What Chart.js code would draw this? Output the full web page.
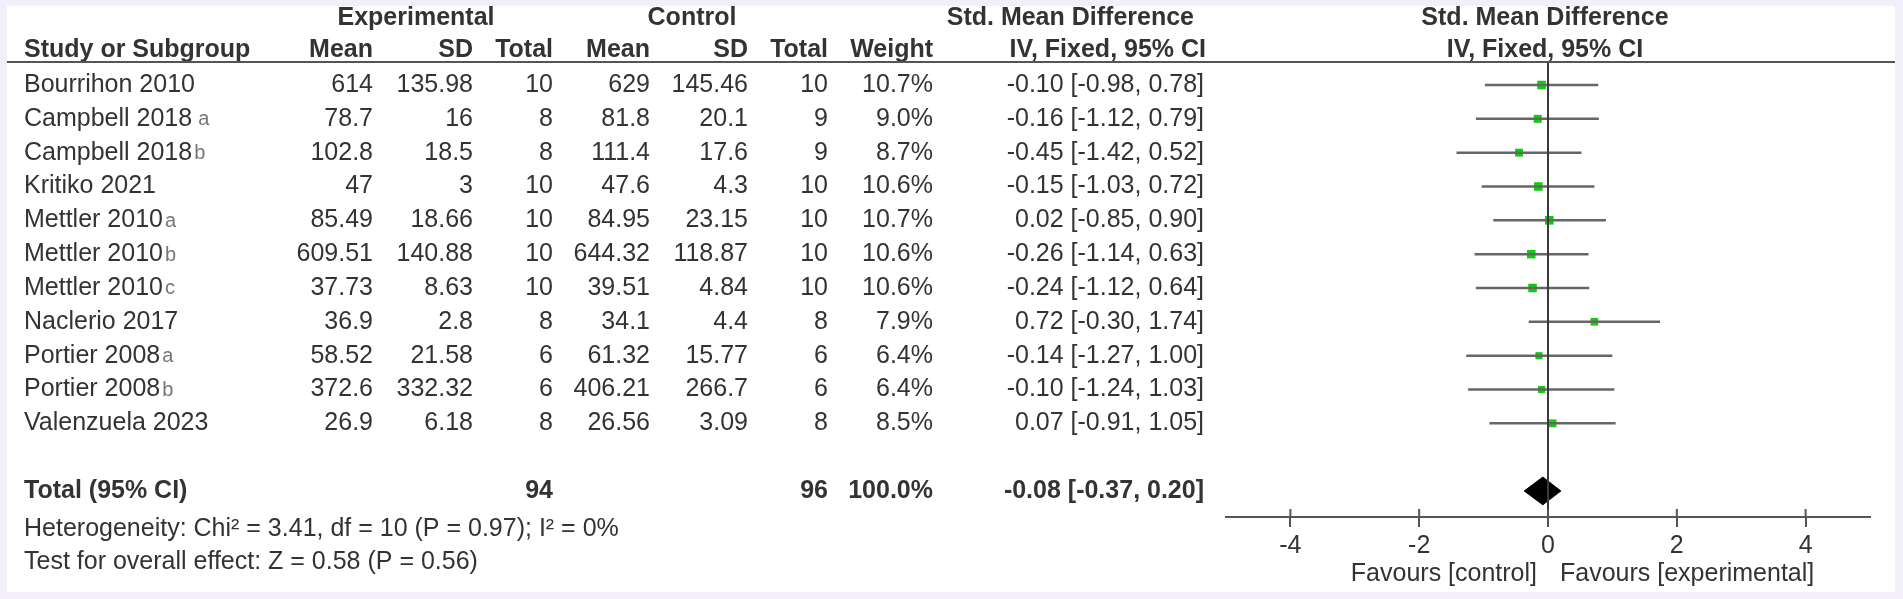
<!DOCTYPE html>
<html>
<head>
<meta charset="utf-8">
<script src="https://cdn.jsdelivr.net/npm/chart.js@4.4.1/dist/chart.umd.min.js"></script>
<style>
html, body { margin: 0; padding: 0; background: #f3effa; }
canvas { display: block; }
</style>
</head>
<body>
<canvas id="forest" width="1903" height="599"></canvas>
<script>
// study rows
const studies = ['Bourrihon 2010', 'Campbell 2018', 'Campbell 2018', 'Kritiko 2021', 'Mettler 2010', 'Mettler 2010',
    'Mettler 2010', 'Naclerio 2017', 'Portier 2008', 'Portier 2008', 'Valenzuela 2023'];
const marks = ['', 'a', 'b', '', 'a', 'b', 'c', '', 'a', 'b', ''];
const expMean = ['614', '78.7', '102.8', '47', '85.49', '609.51', '37.73', '36.9', '58.52', '372.6', '26.9'];
const expSD = ['135.98', '16', '18.5', '3', '18.66', '140.88', '8.63', '2.8', '21.58', '332.32', '6.18'];
const expTotal = [10, 8, 8, 10, 10, 10, 10, 8, 6, 6, 8];
const ctlMean = ['629', '81.8', '111.4', '47.6', '84.95', '644.32', '39.51', '34.1', '61.32', '406.21', '26.56'];
const ctlSD = ['145.46', '20.1', '17.6', '4.3', '23.15', '118.87', '4.84', '4.4', '15.77', '266.7', '3.09'];
const ctlTotal = [10, 9, 9, 10, 10, 10, 10, 8, 6, 6, 8];
const weights = [10.7, 9.0, 8.7, 10.6, 10.7, 10.6, 10.6, 7.9, 6.4, 6.4, 8.5];
const smd = [-0.10, -0.16, -0.45, -0.15, 0.02, -0.26, -0.24, 0.72, -0.14, -0.10, 0.07];
const ciLow = [-0.98, -1.12, -1.42, -1.03, -0.85, -1.14, -1.12, -0.30, -1.27, -1.24, -0.91];
const ciHigh = [0.78, 0.79, 0.52, 0.72, 0.90, 0.63, 0.64, 1.74, 1.00, 1.03, 1.05];

// pooled result
const totalExp = 94;
const totalCtl = 96;
const totalWeight = 100.0;
const totalSmd = -0.08;
const totalLow = -0.37;
const totalHigh = 0.20;
const heterogeneity = 'Heterogeneity: Chi² = 3.41, df = 10 (P = 0.97); I² = 0%';
const overallEffect = 'Test for overall effect: Z = 0.58 (P = 0.56)';

const xTicks = [-4, -2, 0, 2, 4];

// row positions on the y scale
const rowY = studies.map((s, i) => i + 0.68);
const totalY = 12.68;
const yMax = 13.45;

const FONT = '"Liberation Sans", Arial, sans-serif';
const FS = 25;
const TEXT = '#333333';
const LINE = '#555555';

// columns: right edges in px
const col = { study: 24, expMean: 373, expSD: 473, expTotal: 553, ctlMean: 650, ctlSD: 748, ctlTotal: 828, weight: 933, ci: 1204 };

const fmt = v => v.toFixed(2);
const ciText = (m, lo, hi) => `${fmt(m)} [${fmt(lo)}, ${fmt(hi)}]`;

const ciDatasets = studies.map((s, i) => ({
    data: [{ x: ciLow[i], y: rowY[i] }, { x: ciHigh[i], y: rowY[i] }],
    showLine: true,
    borderColor: '#666666',
    borderWidth: 2.5,
    pointRadius: 0
}));

const tablePlugin = {
    id: 'table',
    beforeDraw(chart) {
        const ctx = chart.ctx;
        ctx.save();
        ctx.fillStyle = '#f3effa';
        ctx.fillRect(0, 0, chart.width, chart.height);
        ctx.fillStyle = '#ffffff';
        ctx.fillRect(7, 6, 1888, 586);
        ctx.restore();
    },
    afterDraw(chart) {
        const ctx = chart.ctx;
        const y = chart.scales.y;
        const x = chart.scales.x;
        ctx.save();
        ctx.fillStyle = TEXT;
        ctx.textBaseline = 'middle';

        const put = (t, px, py, align, bold, size) => {
            ctx.font = `${bold ? 'bold ' : ''}${size || FS}px ${FONT}`;
            ctx.textAlign = align;
            ctx.fillText(t, px, py);
        };

        // headers
        put('Experimental', 416, 18, 'center', true);
        put('Control', 692, 18, 'center', true);
        put('Std. Mean Difference', 1194, 18, 'right', true);
        put('Std. Mean Difference', 1545, 18, 'center', true);
        put('Study or Subgroup', col.study, 50, 'left', true);
        put('Mean', col.expMean, 50, 'right', true);
        put('SD', col.expSD, 50, 'right', true);
        put('Total', col.expTotal, 50, 'right', true);
        put('Mean', col.ctlMean, 50, 'right', true);
        put('SD', col.ctlSD, 50, 'right', true);
        put('Total', col.ctlTotal, 50, 'right', true);
        put('Weight', col.weight, 50, 'right', true);
        put('IV, Fixed, 95% CI', 1206, 50, 'right', true);
        put('IV, Fixed, 95% CI', 1545, 50, 'center', true);

        ctx.strokeStyle = LINE;
        ctx.lineWidth = 2;
        ctx.beginPath();
        ctx.moveTo(7, 62);
        ctx.lineTo(1895, 62);
        ctx.stroke();

        // study rows
        studies.forEach((s, i) => {
            const py = y.getPixelForValue(rowY[i]);
            put(s, col.study, py, 'left');
            if (marks[i]) {
                ctx.font = `${FS}px ${FONT}`;
                const w = ctx.measureText(s).width;
                ctx.fillStyle = '#777777';
                put(marks[i], col.study + w + (i === 1 ? 6 : 2), py + 1, 'left', false, 20);
                ctx.fillStyle = TEXT;
            }
            put(expMean[i], col.expMean, py, 'right');
            put(expSD[i], col.expSD, py, 'right');
            put(String(expTotal[i]), col.expTotal, py, 'right');
            put(ctlMean[i], col.ctlMean, py, 'right');
            put(ctlSD[i], col.ctlSD, py, 'right');
            put(String(ctlTotal[i]), col.ctlTotal, py, 'right');
            put(weights[i].toFixed(1) + '%', col.weight, py, 'right');
            put(ciText(smd[i], ciLow[i], ciHigh[i]), col.ci, py, 'right');
        });

        // total row
        const ty = y.getPixelForValue(totalY);
        put('Total (95% CI)', col.study, ty, 'left', true);
        put(String(totalExp), col.expTotal, ty, 'right', true);
        put(String(totalCtl), col.ctlTotal, ty, 'right', true);
        put(totalWeight.toFixed(1) + '%', col.weight, ty, 'right', true);
        put(ciText(totalSmd, totalLow, totalHigh), col.ci, ty, 'right', true);

        put(heterogeneity, col.study, 529, 'left');
        put(overallEffect, col.study, 562, 'left');

        // favours labels
        put('Favours [control]', 1537, 574, 'right');
        put('Favours [experimental]', 1560, 574, 'left');

        // upper half of the tick marks
        ctx.strokeStyle = LINE;
        ctx.lineWidth = 2;
        const ay = y.getPixelForValue(yMax);
        xTicks.forEach(v => {
            const px = x.getPixelForValue(v);
            ctx.beginPath();
            ctx.moveTo(px, ay - 8);
            ctx.lineTo(px, ay);
            ctx.stroke();
        });
        ctx.restore();
    }
};

new Chart(document.getElementById('forest'), {
    type: 'scatter',
    data: {
        datasets: [
            {
                data: [{ x: 0, y: 0 }, { x: 0, y: yMax }],
                showLine: true,
                borderColor: '#3a3a3a',
                borderWidth: 2,
                pointRadius: 0
            },
            ...ciDatasets,
            {
                data: studies.map((s, i) => ({ x: smd[i], y: rowY[i] })),
                pointStyle: 'rect',
                pointRadius: weights.map(w => 3.4 + w * 0.25),
                backgroundColor: '#11cc11',
                borderColor: '#11cc11',
                borderWidth: 0
            },
            {
                data: [
                    { x: totalLow, y: totalY },
                    { x: totalSmd, y: totalY - 0.41 },
                    { x: totalHigh, y: totalY },
                    { x: totalSmd, y: totalY + 0.41 },
                    { x: totalLow, y: totalY }
                ],
                showLine: true,
                fill: 'shape',
                tension: 0,
                backgroundColor: '#000000',
                borderColor: '#000000',
                borderWidth: 1,
                pointRadius: 0
            }
        ]
    },
    options: {
        responsive: false,
        animation: false,
        devicePixelRatio: 1,
        clip: false,
        layout: { padding: { left: 1226, right: 33, top: 62, bottom: 37 } },
        plugins: { legend: { display: false }, tooltip: { enabled: false } },
        scales: {
            x: {
                type: 'linear',
                min: -5,
                max: 5,
                afterBuildTicks: s => { s.ticks = xTicks.map(v => ({ value: v })); },
                afterFit: s => { s.height = 45; },
                grid: { drawOnChartArea: false, drawTicks: true, tickLength: 10, color: LINE, lineWidth: 2 },
                border: { display: true, color: LINE, width: 2 },
                ticks: { color: TEXT, padding: 4, font: { size: FS, family: FONT } }
            },
            y: {
                type: 'linear',
                reverse: true,
                min: 0,
                max: yMax,
                display: false
            }
        }
    },
    plugins: [tablePlugin]
});
</script>
</body>
</html>
